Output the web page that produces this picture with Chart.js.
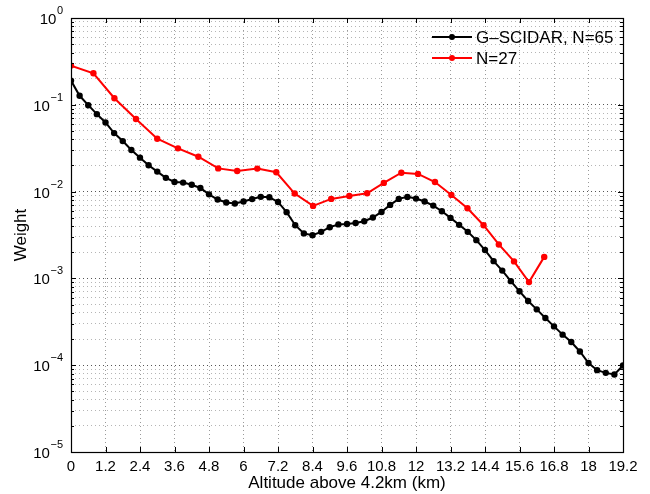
<!DOCTYPE html>
<html>
<head>
<meta charset="utf-8">
<script src="https://cdn.jsdelivr.net/npm/chart.js@4.4.1/dist/chart.umd.min.js"></script>
<style>
  html, body { margin: 0; padding: 0; background: #fff; }
  #wrap { width: 650px; height: 494px; }
</style>
</head>
<body>
<div id="wrap"><canvas id="grafico" width="650" height="494"></canvas></div>
<script>
// datos
const altitudeKm = [
    0, 0.3, 0.6, 0.9, 1.2, 1.5, 1.8, 2.1, 2.4, 2.7, 3.0, 3.3, 3.6, 3.9, 4.2, 4.5,
    4.8, 5.1, 5.4, 5.7, 6.0, 6.3, 6.6, 6.9, 7.2, 7.5, 7.8, 8.1, 8.4, 8.7, 9.0, 9.3,
    9.6, 9.9, 10.2, 10.5, 10.8, 11.1, 11.4, 11.7, 12.0, 12.3, 12.6, 12.9, 13.2, 13.5,
    13.8, 14.1, 14.4, 14.7, 15.0, 15.3, 15.6, 15.9, 16.2, 16.5, 16.8, 17.1, 17.4,
    17.7, 18.0, 18.3, 18.6, 18.9, 19.2
];
const gscidarWeight = [
    0.190, 0.127, 0.099, 0.078, 0.0626, 0.0472, 0.0382, 0.0301, 0.0246, 0.0201,
    0.0170, 0.0144, 0.0129, 0.0127, 0.0120, 0.0110, 0.0093, 0.0081, 0.0075, 0.0073,
    0.0077, 0.0082, 0.0087, 0.0086, 0.0076, 0.0058, 0.0041, 0.0033, 0.00315, 0.00344,
    0.00389, 0.00419, 0.00423, 0.00434, 0.00456, 0.00503, 0.00583, 0.00703, 0.00824, 0.00869,
    0.00831, 0.00768, 0.00690, 0.00594, 0.00498, 0.00414, 0.00344, 0.00276, 0.00212, 0.00158,
    0.00123, 0.00093, 0.00071, 0.00055, 0.00044, 0.00035, 0.00028, 0.000225, 0.000185, 0.000144,
    0.000106, 0.0000877, 0.0000816, 0.0000782, 0.0000993
];
const n27Altitude = [
    0, 0.78, 1.51, 2.26, 3.00, 3.72, 4.43, 5.12, 5.78, 6.48, 7.14, 7.78, 8.42, 9.05,
    9.68, 10.30, 10.88, 11.49, 12.07, 12.66, 13.23, 13.79, 14.35, 14.88, 15.41, 15.93, 16.46
];
const n27Weight = [
    0.283, 0.231, 0.119, 0.0685, 0.0407, 0.0315, 0.0252, 0.0185, 0.0173, 0.0184,
    0.0167, 0.0095, 0.00684, 0.00824, 0.0089, 0.00957, 0.0126, 0.0165, 0.0160, 0.0129,
    0.00916, 0.00643, 0.0041, 0.00246, 0.00157, 0.000906, 0.00177
];
const seriesNames = ['G\u2013SCIDAR, N=65', 'N=27'];

// ticks
const xTicks = [0, 1.2, 2.4, 3.6, 4.8, 6, 7.2, 8.4, 9.6, 10.8, 12, 13.2, 14.4, 15.6, 16.8, 18, 19.2];
const xTickLabels = ['0', '1.2', '2.4', '3.6', '4.8', '6', '7.2', '8.4', '9.6', '10.8', '12', '13.2', '14.4', '15.6', '16.8', '18', '19.2'];
const yDecades = [1e-5, 1e-4, 1e-3, 1e-2, 1e-1, 1];
const yTickBase = '10';
const yTickExp = ['\u22125', '\u22124', '\u22123', '\u22122', '\u22121', '0'];

const fuente = "'Liberation Sans', Arial, Helvetica, sans-serif";

// lineas menores 2..9 x 10^k
const yGrid = [];
yDecades.forEach(function(d, i) {
    yGrid.push({ value: d, major: true });
    if (i < yDecades.length - 1) {
        for (let m = 2; m <= 9; m++) yGrid.push({ value: d * m, major: false });
    }
});

// caja, marcas hacia adentro y etiquetas 10^k, estilo matlab
const cajaPlugin = {
    id: 'caja',
    afterDatasetsDraw(chart) {
        const ctx = chart.ctx;
        const a = chart.chartArea;
        const xs = chart.scales.x, ys = chart.scales.y;
        ctx.save();
        ctx.strokeStyle = '#000';
        ctx.lineWidth = 1;
        ctx.beginPath();
        xTicks.forEach(function(v) {
            const px = Math.round(xs.getPixelForValue(v)) + 0.5;
            ctx.moveTo(px, a.bottom); ctx.lineTo(px, a.bottom - 5);
            ctx.moveTo(px, a.top); ctx.lineTo(px, a.top + 5);
        });
        yGrid.forEach(function(t) {
            const py = Math.round(ys.getPixelForValue(t.value)) + 0.5;
            const len = t.major ? 5 : 3;
            ctx.moveTo(a.left, py); ctx.lineTo(a.left + len, py);
            ctx.moveTo(a.right, py); ctx.lineTo(a.right - len, py);
        });
        ctx.stroke();
        ctx.lineWidth = 1.2;
        ctx.strokeRect(Math.round(a.left) + 0.5, Math.round(a.top) + 0.5,
            Math.round(a.right - a.left), Math.round(a.bottom - a.top));

        // etiquetas del eje y con exponente
        ctx.fillStyle = '#000';
        ctx.textBaseline = 'alphabetic';
        ctx.textAlign = 'left';
        yDecades.forEach(function(d, i) {
            const py = ys.getPixelForValue(d);
            const derecha = a.left - 8;
            ctx.font = '11px ' + fuente;
            const wExp = ctx.measureText(yTickExp[i]).width;
            ctx.fillText(yTickExp[i], derecha - wExp, py - 4);
            ctx.font = '15px ' + fuente;
            const wBase = ctx.measureText(yTickBase).width;
            ctx.fillText(yTickBase, derecha - wExp - wBase - 0.5, py + 6);
        });

        // leyenda
        const colores = ['#000', '#ff0000'];
        const filas = [37, 58];
        ctx.font = '17px ' + fuente;
        ctx.textBaseline = 'middle';
        ctx.textAlign = 'left';
        seriesNames.forEach(function(nombre, i) {
            const y = filas[i];
            ctx.strokeStyle = colores[i];
            ctx.fillStyle = colores[i];
            ctx.lineWidth = 2;
            ctx.beginPath();
            ctx.moveTo(432, y); ctx.lineTo(472, y);
            ctx.stroke();
            ctx.beginPath();
            ctx.arc(452, y, 3, 0, Math.PI * 2);
            ctx.fill();
            ctx.fillStyle = '#000';
            ctx.fillText(nombre, 476, y + 1);
        });
        ctx.restore();
    }
};

document.addEventListener('DOMContentLoaded', function() {
    const ctx = document.getElementById('grafico').getContext('2d');

    const data = {
        datasets: [{
            label: seriesNames[0],
            data: altitudeKm.map((x, i) => ({ x: x, y: gscidarWeight[i] })),
            borderColor: '#000',
            backgroundColor: '#000',
            borderWidth: 2,
            pointRadius: 3.2,
            pointBorderWidth: 0,
            tension: 0
        }, {
            label: seriesNames[1],
            data: n27Altitude.map((x, i) => ({ x: x, y: n27Weight[i] })),
            borderColor: '#ff0000',
            backgroundColor: '#ff0000',
            borderWidth: 2,
            pointRadius: 3.2,
            pointBorderWidth: 0,
            tension: 0
        }]
    };

    new Chart(ctx, {
        type: 'line',
        data: data,
        plugins: [cajaPlugin],
        options: {
            responsive: false,
            animation: false,
            layout: { padding: { top: 18, right: 27, left: 0, bottom: 0 } },
            plugins: {
                legend: { display: false },
                tooltip: { enabled: false }
            },
            scales: {
                x: {
                    type: 'linear',
                    min: 0,
                    max: 19.2,
                    afterBuildTicks: function(scale) {
                        scale.ticks = xTicks.map(v => ({ value: v }));
                    },
                    afterFit: function(scale) { scale.height = 42; },
                    grid: {
                        color: function(c) {
                            return (c.tick && (c.tick.value === 0 || c.tick.value === 19.2)) ? 'rgba(0,0,0,0)' : '#9a9a9a';
                        },
                        drawTicks: false
                    },
                    border: { display: false, dash: [1, 3] },
                    ticks: {
                        color: '#000',
                        padding: 6,
                        maxRotation: 0,
                        autoSkip: false,
                        font: { family: fuente, size: 15 },
                        callback: function(v, i) { return xTickLabels[i]; }
                    },
                    title: {
                        display: true,
                        text: 'Altitude above 4.2km (km)',
                        color: '#000',
                        font: { family: fuente, size: 17 },
                        padding: { top: 0, bottom: 0 }
                    }
                },
                y: {
                    type: 'logarithmic',
                    min: 1e-5,
                    max: 1,
                    afterBuildTicks: function(scale) {
                        scale.ticks = yGrid.map(t => ({ value: t.value, major: t.major }));
                    },
                    afterFit: function(scale) { scale.width = 71; },
                    grid: {
                        color: function(c) {
                            if (!c.tick) return '#bbb';
                            if (c.tick.value === 1 || c.tick.value === 1e-5) return 'rgba(0,0,0,0)';
                            return c.tick.major ? '#555' : '#b5b5b5';
                        },
                        drawTicks: false
                    },
                    border: { display: false, dash: [1, 3] },
                    ticks: {
                        // las etiquetas 10^k se dibujan en el plugin
                        autoSkip: false,
                        callback: function() { return ''; }
                    },
                    title: {
                        display: true,
                        text: 'Weight',
                        color: '#000',
                        font: { family: fuente, size: 17 },
                        padding: { top: 11, bottom: 0 }
                    }
                }
            }
        }
    });
});
</script>
</body>
</html>
